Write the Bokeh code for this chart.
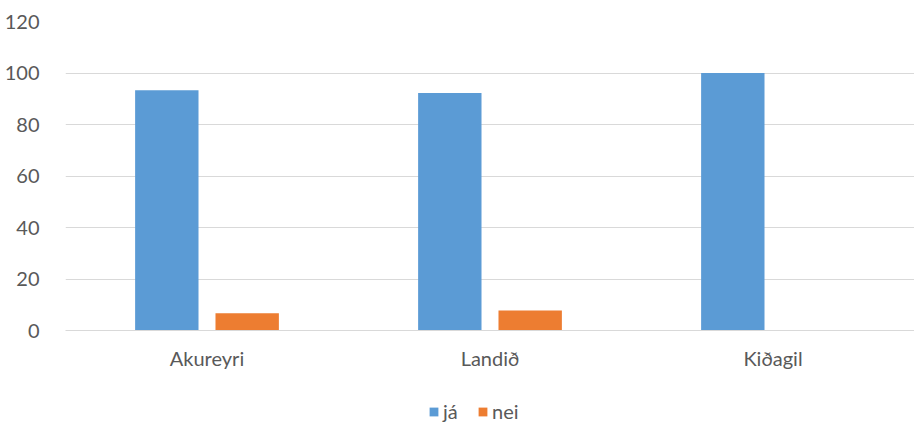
from bokeh.plotting import figure
from bokeh.layouts import column
from bokeh.models import ColumnDataSource, Legend, LegendItem, FactorRange, SingleIntervalTicker
from bokeh.transform import dodge
from bokeh.embed import file_html
from bokeh.resources import INLINE

categories = ["Akureyri", "Landið", "Kiðagil"]
ja = [93.3, 92.2, 100.0]
nei = [6.7, 7.8, 0.0]
series_names = ["já", "nei"]
series_colors = ["#5B9BD5", "#ED7D31"]

src = ColumnDataSource(dict(cat=categories, ja=ja, nei=nei))

FONT = "Lato"
GREY = "#595959"

p = figure(x_range=FactorRange(*categories), y_range=(0, 120),
           width=914, height=380, output_backend="svg", toolbar_location=None,
           min_border_left=65, min_border_right=0, min_border_top=21, min_border_bottom=50)

p.vbar(x=dodge("cat", -0.142, range=p.x_range), top="ja", width=0.224, source=src,
       color=series_colors[0], line_color=None)
p.vbar(x=dodge("cat", 0.142, range=p.x_range), top="nei", width=0.224, source=src,
       color=series_colors[1], line_color=None)

p.outline_line_color = None
p.xgrid.grid_line_color = None
p.ygrid.grid_line_color = "#d9d9d9"
p.ygrid.grid_line_width = 1
p.yaxis.ticker = SingleIntervalTicker(interval=20)

p.yaxis.axis_line_color = None
p.yaxis.major_tick_line_color = None
p.yaxis.minor_tick_line_color = None
p.yaxis.major_label_text_font = FONT
p.yaxis.major_label_text_font_size = "20px"
p.yaxis.major_label_text_color = GREY
p.yaxis.major_label_standoff = 20

p.xaxis.axis_line_color = "#d9d9d9"
p.xaxis.axis_line_width = 1
p.xaxis.major_tick_line_color = None
p.xaxis.minor_tick_line_color = None
p.xaxis.major_label_text_font = FONT
p.xaxis.major_label_text_font_size = "20px"
p.xaxis.major_label_text_color = GREY
p.xaxis.major_label_standoff = 9

# legend strip below the chart (zero-height swatch renderers only feed the legend)
lg = figure(width=914, height=46, x_range=(0, 1), y_range=(0, 1),
            x_axis_location=None, y_axis_location=None,
            output_backend="svg", toolbar_location=None,
            min_border_left=0, min_border_right=0, min_border_top=0, min_border_bottom=0)
lg.grid.grid_line_color = None
lg.outline_line_color = None
swatch = ColumnDataSource(dict(x=[0.5], top=[0.0]))
rl1 = lg.vbar(x="x", top="top", width=0.0, source=swatch, color=series_colors[0], line_color=None)
rl2 = lg.vbar(x="x", top="top", width=0.0, source=swatch, color=series_colors[1], line_color=None)

legend = Legend(items=[LegendItem(label=series_names[0], renderers=[rl1]),
                       LegendItem(label=series_names[1], renderers=[rl2])],
                orientation="horizontal", location=(363, 3),
                label_text_font=FONT, label_text_font_size="20px", label_text_color=GREY,
                glyph_width=11, glyph_height=11, spacing=14, label_standoff=4,
                padding=0, margin=0,
                border_line_color=None, background_fill_alpha=0)
lg.add_layout(legend, "center")

layout = column(p, lg, spacing=0)
open("out.html", "w").write(file_html(layout, INLINE))
